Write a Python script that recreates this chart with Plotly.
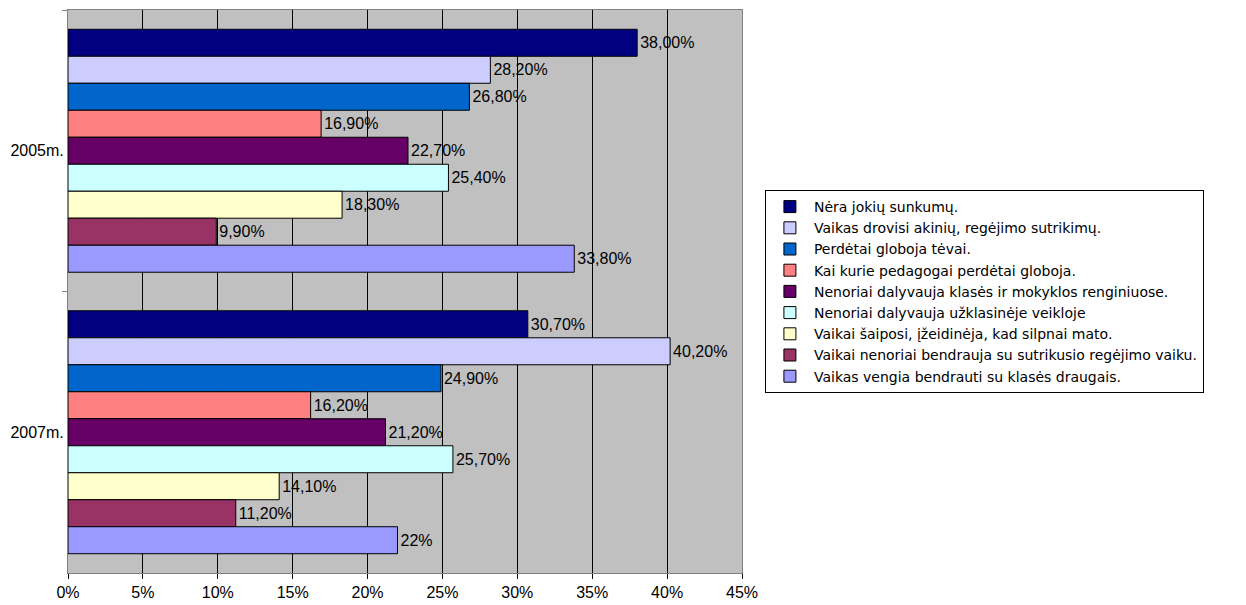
import plotly.graph_objects as go

categories = ["2005m.", "2007m."]
series_names = [
    "Nėra jokių sunkumų.",
    "Vaikas drovisi akinių, regėjimo sutrikimų.",
    "Perdėtai globoja tėvai.",
    "Kai kurie pedagogai perdėtai globoja.",
    "Nenoriai dalyvauja klasės ir mokyklos renginiuose.",
    "Nenoriai dalyvauja užklasinėje veikloje",
    "Vaikai šaiposi, įžeidinėja, kad silpnai mato.",
    "Vaikai nenoriai bendrauja su sutrikusio regėjimo vaiku.",
    "Vaikas vengia bendrauti su klasės draugais.",
]
values_2005 = [38.0, 28.2, 26.8, 16.9, 22.7, 25.4, 18.3, 9.9, 33.8]
values_2007 = [30.7, 40.2, 24.9, 16.2, 21.2, 25.7, 14.1, 11.2, 22.0]
labels_2005 = ["38,00%", "28,20%", "26,80%", "16,90%", "22,70%", "25,40%", "18,30%", "9,90%", "33,80%"]
labels_2007 = ["30,70%", "40,20%", "24,90%", "16,20%", "21,20%", "25,70%", "14,10%", "11,20%", "22%"]
x_ticks = [0, 5, 10, 15, 20, 25, 30, 35, 40, 45]
x_tick_labels = ["0%", "5%", "10%", "15%", "20%", "25%", "30%", "35%", "40%", "45%"]

colors = ["#000080", "#CCCCFF", "#0066CC", "#FF8080", "#660066",
          "#CCFFFF", "#FFFFCC", "#993366", "#9999FF"]

FONT = "Liberation Sans, Arial, sans-serif"
LEGEND_FONT = "DejaVu Sans, Liberation Sans, Arial, sans-serif"

fig = go.Figure()
for i, name in enumerate(series_names):
    fig.add_trace(go.Bar(
        name=name,
        y=categories,
        x=[values_2005[i], values_2007[i]],
        orientation="h",
        marker=dict(color=colors[i], line=dict(color="#000000", width=1)),
        text=[labels_2005[i], labels_2007[i]],
        textposition="outside",
        textfont=dict(family=FONT, size=16, color="#000000"),
        cliponaxis=False,
        hoverinfo="skip",
    ))

fig.update_layout(
    width=1246, height=605,
    barmode="group",
    bargap=0.137,
    bargroupgap=0,
    paper_bgcolor="#FFFFFF",
    plot_bgcolor="#C0C0C0",
    margin=dict(l=68, r=504, t=10, b=32, autoexpand=False),
    font=dict(family=FONT, size=16, color="#000000"),
    showlegend=True,
    legend=dict(
        x=1.034, xanchor="left",
        y=0.5, yanchor="middle",
        traceorder="normal",
        itemwidth=38,
        bordercolor="#000000", borderwidth=1,
        bgcolor="#FFFFFF",
        font=dict(family=LEGEND_FONT, size=14, color="#000000"),
        itemclick=False, itemdoubleclick=False,
    ),
    xaxis=dict(
        range=[0, 45],
        tickvals=x_ticks,
        ticktext=x_tick_labels,
        showgrid=True, gridcolor="#000000", gridwidth=1,
        zeroline=False,
        showline=True, linecolor="#808080", linewidth=1, mirror=True,
        ticks="outside", ticklen=5, tickcolor="#000000",
        tickfont=dict(family=FONT, size=16),
        fixedrange=True,
    ),
    yaxis=dict(
        type="category",
        autorange="reversed",
        tickson="boundaries",
        ticks="outside", ticklen=5, tickcolor="#808080",
        showgrid=False,
        showline=True, linecolor="#808080", linewidth=1, mirror=True,
        tickfont=dict(family=FONT, size=16),
        fixedrange=True,
    ),
)

fig.write_html(
    "out.html",
    config={"displayModeBar": False},
    post_script="document.body.style.margin='0px';document.body.style.padding='0px';",
)
